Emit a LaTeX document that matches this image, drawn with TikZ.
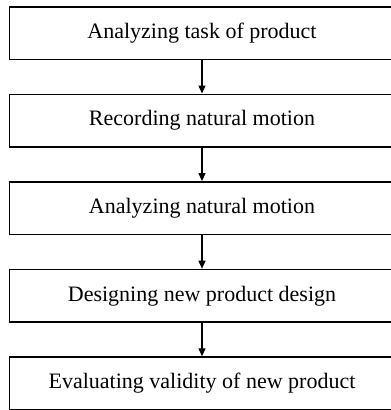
\documentclass[tikz,border=0pt]{standalone}
\usepackage{fontspec}
\setmainfont{Liberation Serif}
\usetikzlibrary{positioning,arrows.meta}

\begin{document}
\begin{tikzpicture}[
        x=1pt, y=1pt, font=\fontsize{22}{26}\selectfont,
        stepbox/.style={draw, line width=1.6pt, minimum width=385.4pt,
          minimum height=52.6pt, inner sep=0pt},
        flow/.style={-{Triangle[length=8pt,width=7pt]}, line width=1.3pt},
        node distance=33.4pt]

  % frame ---------------------------------------------------
  \useasboundingbox (0,0) rectangle (391,-410);

  % five steps ----------------------------------------------
  \node[stepbox] (task)     at (202,-33) {Analyzing task of product};
  \node[stepbox, below=of task]     (record)   {Recording natural motion};
  \node[stepbox, below=of record]   (analyze)  {Analyzing natural motion};
  \node[stepbox, below=of analyze]  (design)   {Designing new product design};
  \node[stepbox, below=of design]   (evaluate) {Evaluating validity of new product};

  % arrows --------------------------------------------------
  \draw[flow] (task)    -- (record);
  \draw[flow] (record)  -- (analyze);
  \draw[flow] (analyze) -- (design);
  \draw[flow] (design)  -- (evaluate);

\end{tikzpicture}
\end{document}
